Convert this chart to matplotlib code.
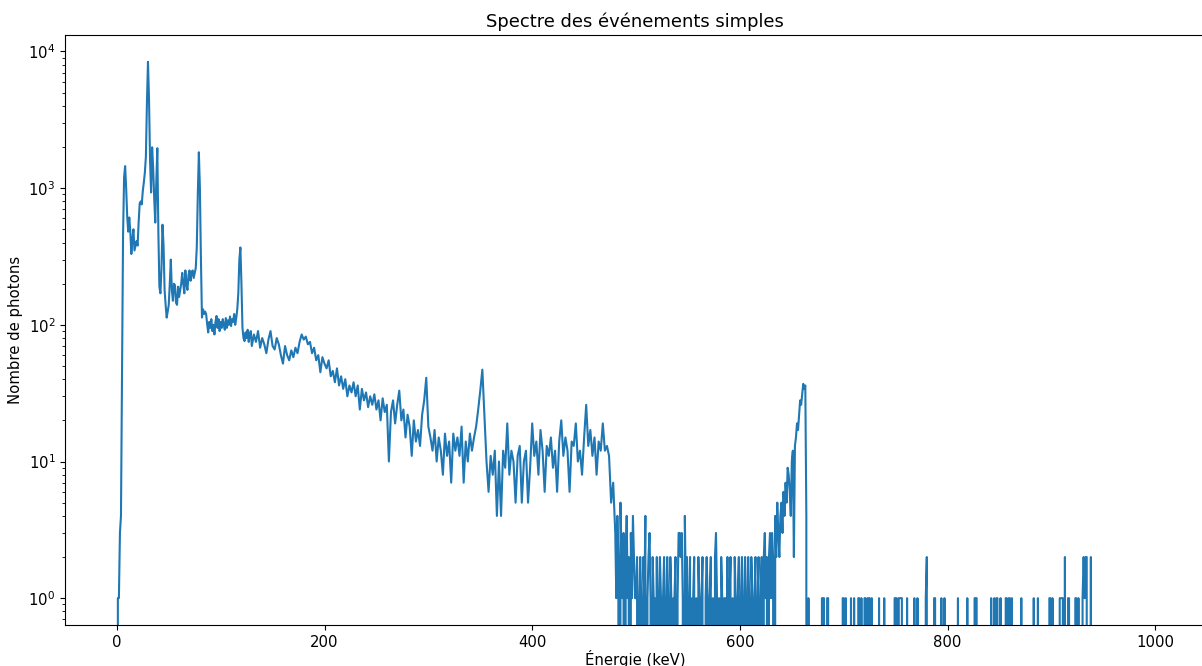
import numpy as np
import matplotlib
matplotlib.use("Agg")
import matplotlib.pyplot as plt

plt.rcParams["font.size"] = 10.7

# canaux de 1 keV entre 0 et 129 keV
comptes_bas = [
    0, 1, 1, 3, 4, 40, 450, 1200, 1450, 1000,
    620, 480, 610, 480, 330, 420, 500, 350, 380, 410,
    380, 560, 770, 800, 760, 950, 1100, 1300, 1700, 4200,
    8400, 4500, 1600, 930, 1990, 1400, 850, 560, 1100, 1960,
    480, 190, 170, 260, 540, 380, 180, 140, 113, 125,
    140, 200, 300, 180, 150, 200, 195, 145, 140, 190,
    160, 180, 200, 240, 200, 170, 250, 200, 180, 230,
    250, 210, 240, 250, 220, 240, 260, 370, 900, 1830,
    1000, 300, 113, 130, 120, 125, 120, 101, 88, 105,
    95, 110, 90, 100, 85, 105, 116, 95, 110, 90,
    105, 95, 110, 100, 92, 112, 95, 108, 100, 115,
    98, 110, 105, 120, 100, 112, 130, 170, 300, 368,
    200, 95, 80, 76, 88, 80, 92, 75, 85, 90,
]

# canaux lus tous les 2 keV entre 130 et 478 keV
comptes_milieu = [
    70, 85, 75, 90, 68, 80, 72, 62, 78, 90,
    70, 66, 80, 72, 60, 52, 70, 60, 55, 65,
    58, 68, 62, 75, 85, 78, 82, 72, 75, 62,
    68, 55, 60, 45, 58, 52, 48, 55, 42, 46,
    38, 48, 36, 42, 34, 40, 30, 36, 32, 38,
    30, 36, 24, 34, 28, 32, 25, 30, 26, 31,
    24, 28, 20, 29, 23, 26, 10, 23, 28, 19,
    26, 33, 20, 24, 15, 22, 18, 11, 20, 14,
    17, 13, 22, 28, 41, 18, 15, 12, 17, 10,
    15, 12, 8, 16, 11, 14, 7, 16, 12, 15,
    11, 18, 7, 14, 10, 16, 12, 15, 18, 24,
    33, 47, 22, 10, 6, 11, 8, 12, 4, 10,
    4, 12, 9, 19, 8, 12, 10, 5, 11, 13,
    5, 10, 12, 5, 9, 19, 11, 14, 8, 17,
    12, 6, 13, 11, 15, 9, 12, 6, 14, 20,
    11, 15, 12, 6, 14, 13, 19, 10, 12, 8,
    15, 26, 13, 17, 11, 15, 8, 14, 12, 19,
    12, 13, 11, 5, 7,
]

# canaux de 1 keV entre 480 et 666 keV
comptes_haut = [
    3, 1, 4, 2, 0, 5, 2, 1, 3, 0,
    2, 4, 1, 2, 0, 3, 1, 4, 2, 1,
    1, 2, 0, 1, 2, 1, 0, 2, 1, 4,
    0, 1, 2, 3, 1, 0, 2, 1, 1, 0,
    2, 0, 1, 2, 1, 0, 1, 2, 0, 1,
    2, 1, 0, 2, 1, 0, 1, 1, 2, 0,
    1, 3, 3, 2, 3, 1, 0, 4, 1, 2,
    0, 1, 2, 0, 1, 1, 2, 0, 1, 0,
    2, 1, 0, 1, 2, 0, 0, 1, 2, 1,
    0, 1, 2, 0, 1, 0, 2, 3, 1, 0,
    1, 0, 2, 1, 0, 1, 1, 0, 2, 0,
    1, 2, 0, 1, 0, 2, 1, 0, 1, 2,
    0, 1, 2, 1, 0, 2, 0, 1, 2, 1,
    0, 2, 1, 0, 1, 2, 0, 1, 2, 0,
    1, 2, 0, 2, 3, 1, 2, 0, 2, 3,
    1, 3, 2, 0, 4, 2, 5, 3, 2, 4,
    5, 3, 6, 4, 7, 5, 9, 8, 6, 4,
    10, 12, 2, 13, 15, 19, 17, 22, 28, 26,
    31, 37, 34, 36, 4, 0, 1,
]

# au-dela de 667 keV : seuls quelques canaux non vides
canaux_queue = [679, 680, 681, 684, 685, 699, 700, 702, 707, 710,
                714, 715, 717, 720, 721, 723, 724, 725, 727, 734,
                739, 749, 750, 751, 753, 754, 755, 756, 761, 768,
                771, 779, 780, 787, 788, 794, 797, 810, 819, 826,
                827, 828, 842, 845, 847, 848, 851, 856, 857, 859,
                860, 862, 871, 883, 887, 898, 899, 901, 908, 909,
                910, 911, 913, 916, 917, 923, 924, 926, 930, 931,
                932, 933, 934, 938]
comptes_queue = [1, 1, 1, 1, 1, 1, 1, 1, 1, 1,
                 1, 1, 1, 1, 1, 1, 1, 1, 1, 1,
                 1, 1, 1, 1, 1, 1, 1, 1, 1, 1,
                 1, 1, 2, 1, 1, 1, 1, 1, 1, 1,
                 1, 1, 1, 1, 1, 1, 1, 1, 1, 1,
                 1, 1, 1, 1, 1, 1, 1, 1, 1, 1,
                 1, 1, 2, 1, 1, 1, 1, 1, 1, 2,
                 1, 2, 2, 2]

energie = np.concatenate([np.arange(0, 130), np.arange(130, 480, 2),
                          np.arange(480, 667), np.arange(667, 999)])
queue = np.zeros(999 - 667)
for c, n in zip(canaux_queue, comptes_queue):
    queue[c - 667] = n
comptes = np.concatenate([comptes_bas, comptes_milieu, comptes_haut, queue])

fig = plt.figure(figsize=(12.02, 6.66), dpi=100)
ax = fig.add_axes([65 / 1202, 41 / 666, 1140 / 1202, 590 / 666])
ax.plot(energie, comptes)
ax.set_yscale("log")
ax.set_title("Spectre des événements simples")
ax.set_xlabel("Énergie (keV)", labelpad=0)
ax.set_ylabel("Nombre de photons")
fig.savefig("out.png", dpi=100)
